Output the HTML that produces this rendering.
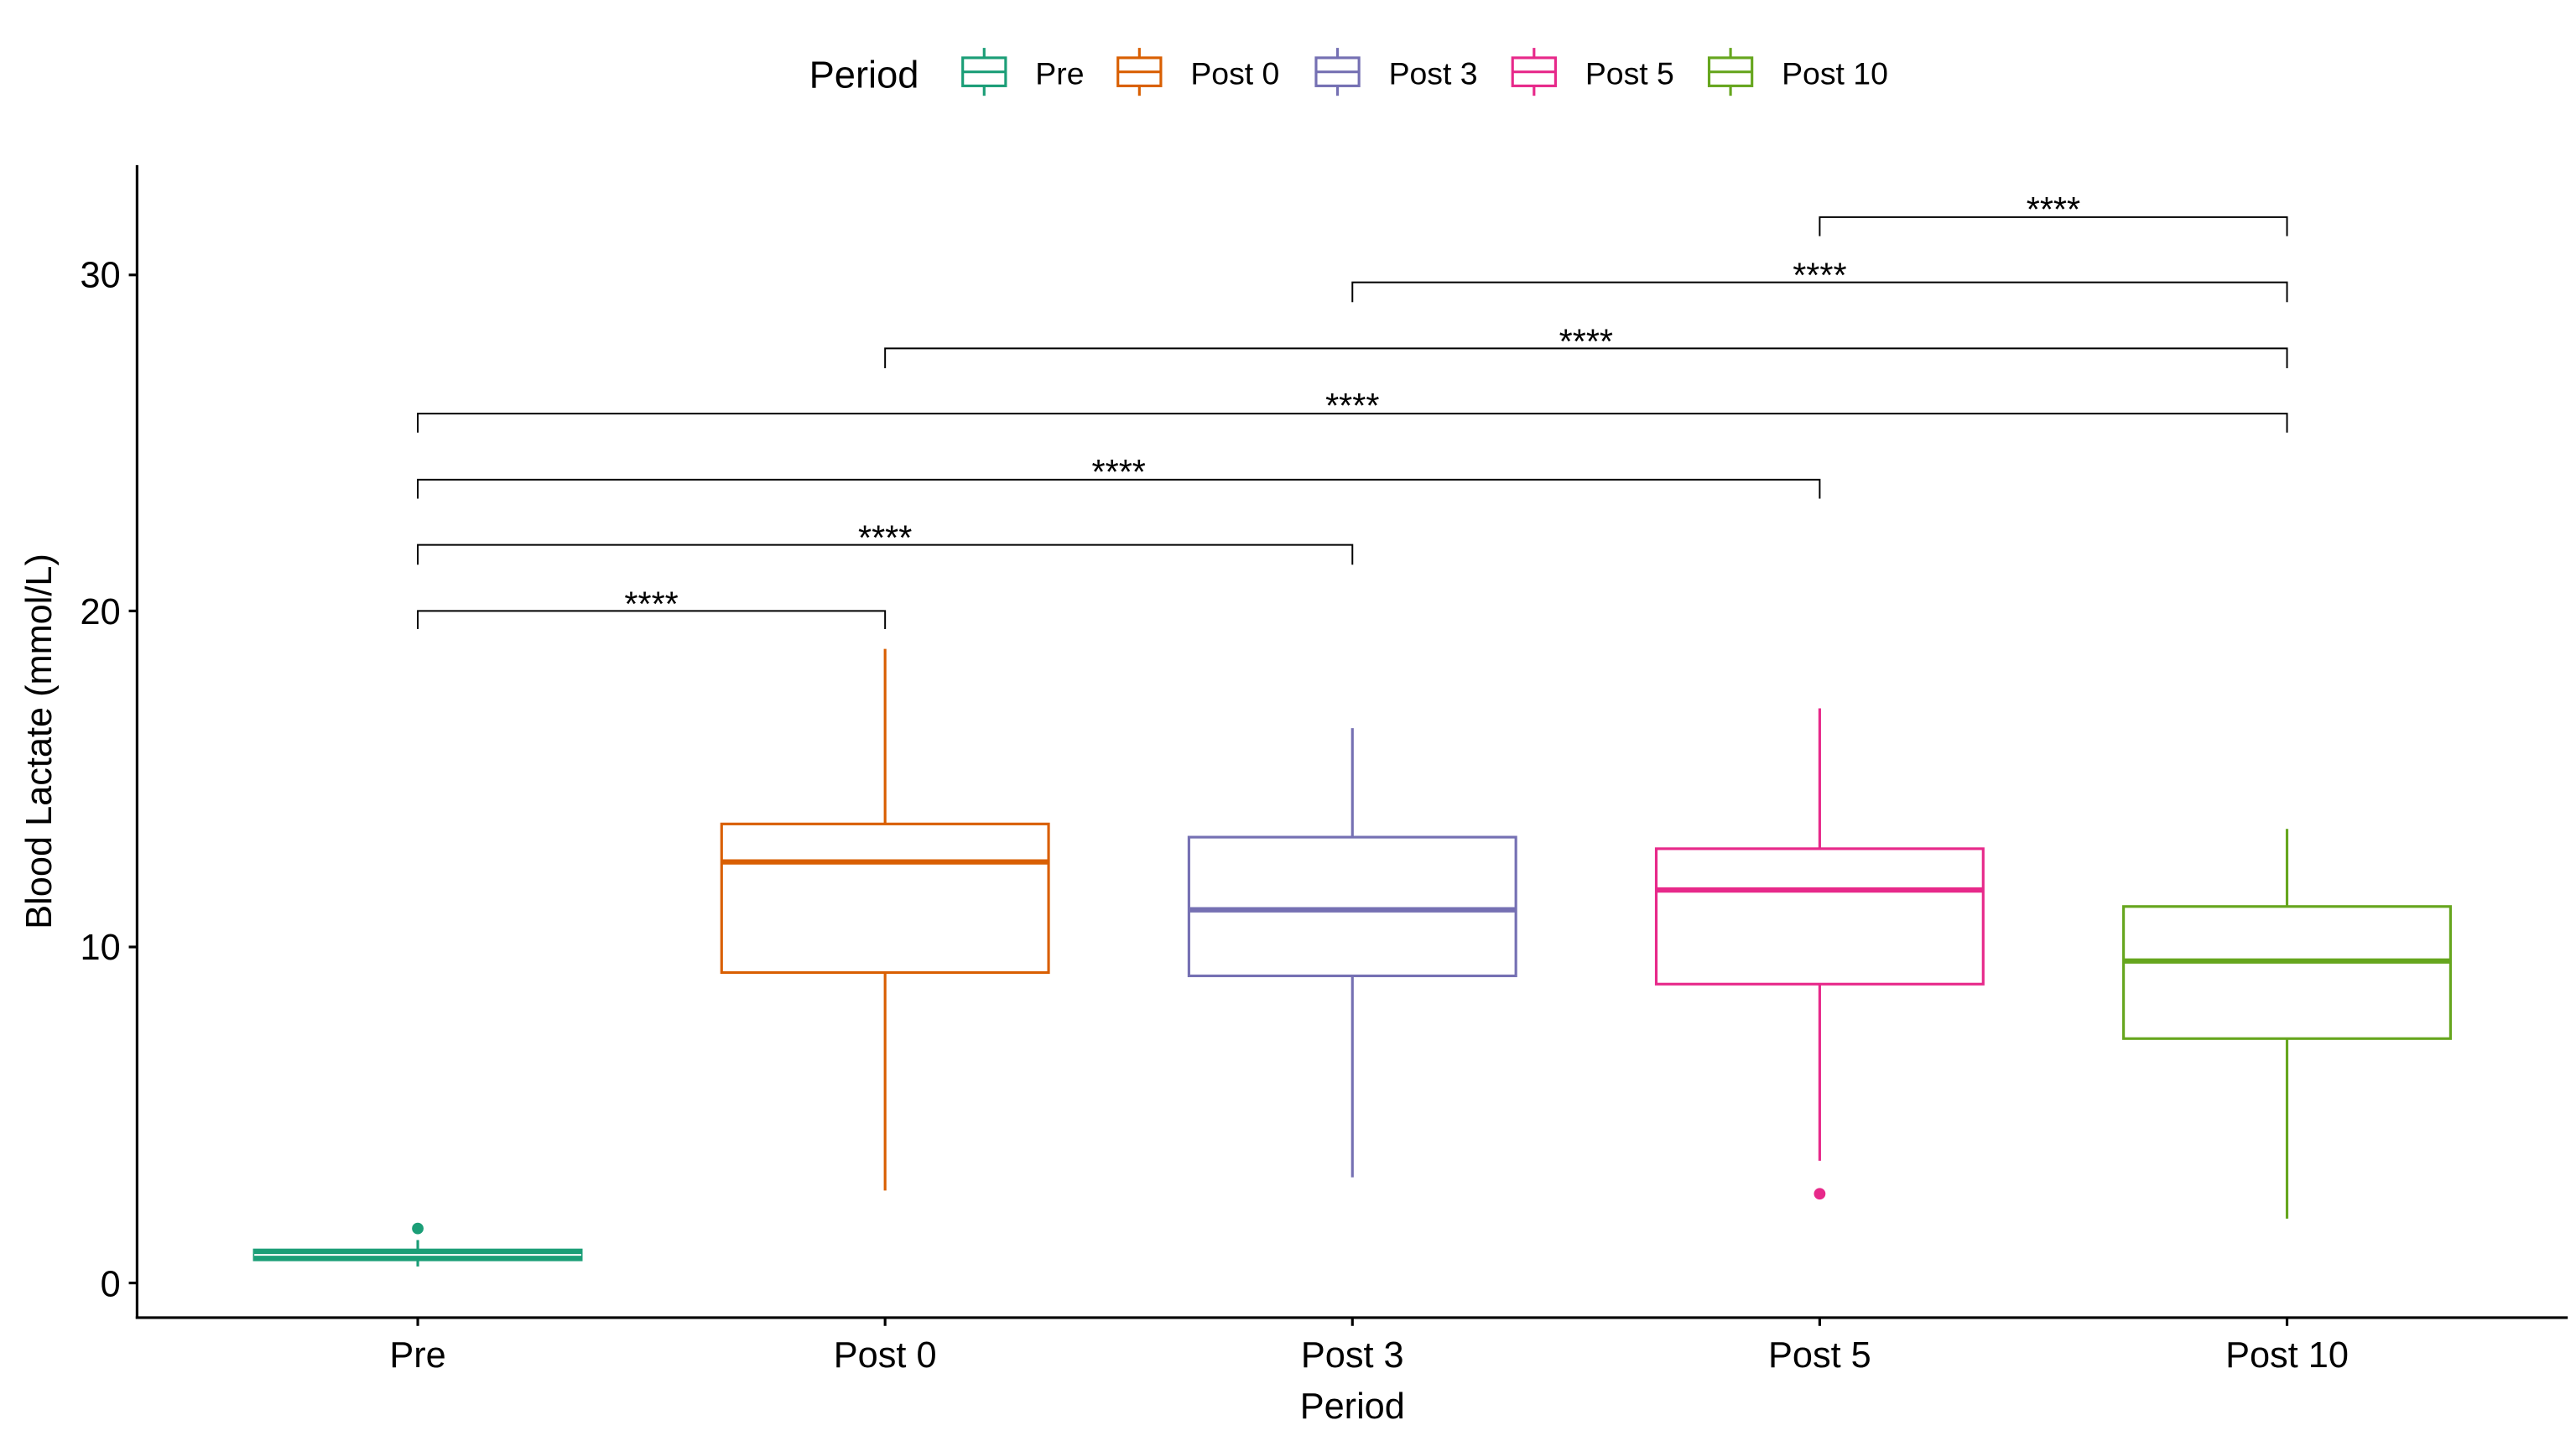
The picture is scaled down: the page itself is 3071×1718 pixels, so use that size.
<!DOCTYPE html>
<html><head><meta charset="utf-8"><style>html,body{margin:0;padding:0;background:#fff}svg{display:block}</style></head><body>
<svg width="3071" height="1718" viewBox="0 0 1560 872.7" xmlns="http://www.w3.org/2000/svg" font-family="Liberation Sans, Arial, sans-serif">
<rect width="1560" height="873" fill="#fff"/>
<line x1="83" y1="100" x2="83" y2="798.7" stroke="#000" stroke-width="1.6"/>
<line x1="82.2" y1="798" x2="1555" y2="798" stroke="#000" stroke-width="1.6"/>
<g stroke="#000" stroke-width="1.6">
<line x1="78" y1="777" x2="83" y2="777"/><line x1="78" y1="573.5" x2="83" y2="573.5"/><line x1="78" y1="370" x2="83" y2="370"/><line x1="78" y1="166.5" x2="83" y2="166.5"/>
<line x1="253" y1="798" x2="253" y2="803"/><line x1="536" y1="798" x2="536" y2="803"/><line x1="819" y1="798" x2="819" y2="803"/><line x1="1102" y1="798" x2="1102" y2="803"/><line x1="1385" y1="798" x2="1385" y2="803"/>
</g>
<g font-size="22" fill="#000" text-anchor="end">
<text x="73" y="785">0</text><text x="73" y="581">10</text><text x="73" y="378">20</text><text x="73" y="174">30</text>
</g>
<g font-size="22" fill="#000" text-anchor="middle">
<text x="253" y="828">Pre</text><text x="536" y="828">Post 0</text><text x="819" y="828">Post 3</text><text x="1102" y="828">Post 5</text><text x="1385" y="828">Post 10</text>
<text x="819" y="859">Period</text>
<text transform="translate(31,449) rotate(-90)">Blood Lactate (mmol/L)</text>
</g>
<g fill="none" stroke-width="1.6">
<g stroke="#1B9E77">
<line x1="253" y1="751" x2="253" y2="767"/>
<rect x="154" y="757" width="198" height="6" fill="#1B9E77"/>
<line x1="154" y1="760" x2="352" y2="760" stroke="#fff" stroke-width="1"/>
<circle cx="253" cy="744" r="3.5" fill="#1B9E77" stroke="none"/>
</g>
<g stroke="#D95F02">
<line x1="536" y1="393" x2="536" y2="499"/><line x1="536" y1="589" x2="536" y2="721"/>
<rect x="437" y="499" width="198" height="90" fill="#fff"/>
<line x1="437" y1="522" x2="635" y2="522" stroke-width="3.2"/>
</g>
<g stroke="#7570B3">
<line x1="819" y1="441" x2="819" y2="507"/><line x1="819" y1="591" x2="819" y2="713"/>
<rect x="720" y="507" width="198" height="84" fill="#fff"/>
<line x1="720" y1="551" x2="918" y2="551" stroke-width="3.2"/>
</g>
<g stroke="#E7298A">
<line x1="1102" y1="429" x2="1102" y2="514"/><line x1="1102" y1="596" x2="1102" y2="703"/>
<rect x="1003" y="514" width="198" height="82" fill="#fff"/>
<line x1="1003" y1="539" x2="1201" y2="539" stroke-width="3.2"/>
<circle cx="1102" cy="723" r="3.5" fill="#E7298A" stroke="none"/>
</g>
<g stroke="#66A61E">
<line x1="1385" y1="502" x2="1385" y2="549"/><line x1="1385" y1="629" x2="1385" y2="738"/>
<rect x="1286" y="549" width="198" height="80" fill="#fff"/>
<line x1="1286" y1="582" x2="1484" y2="582" stroke-width="3.2"/>
</g>
</g>
<g fill="none" stroke="#000" stroke-width="1">
<path d="M253 381V370H536V381"/>
<path d="M253 342V330H819V342"/>
<path d="M253 302V290.5H1102V302"/>
<path d="M253 262V250.5H1385V262"/>
<path d="M536 223V211H1385V223"/>
<path d="M819 183V171H1385V183"/>
<path d="M1102 143V131.5H1385V143"/>
</g>
<g font-size="21" fill="#000" text-anchor="middle">
<text x="394.5" y="373">****</text>
<text x="536" y="333">****</text>
<text x="677.5" y="293">****</text>
<text x="819" y="253">****</text>
<text x="960.5" y="214">****</text>
<text x="1102" y="174">****</text>
<text x="1243.5" y="134">****</text>
</g>
<text x="490" y="53" font-size="23" fill="#000">Period</text>
<g fill="none" stroke-width="1.6">
<g stroke="#1B9E77"><line x1="596" y1="29" x2="596" y2="58"/><rect x="583" y="35" width="26" height="17" fill="#fff"/><line x1="583" y1="43.5" x2="609" y2="43.5"/></g>
<g stroke="#D95F02"><line x1="690" y1="29" x2="690" y2="58"/><rect x="677" y="35" width="26" height="17" fill="#fff"/><line x1="677" y1="43.5" x2="703" y2="43.5"/></g>
<g stroke="#7570B3"><line x1="810" y1="29" x2="810" y2="58"/><rect x="797" y="35" width="26" height="17" fill="#fff"/><line x1="797" y1="43.5" x2="823" y2="43.5"/></g>
<g stroke="#E7298A"><line x1="929" y1="29" x2="929" y2="58"/><rect x="916" y="35" width="26" height="17" fill="#fff"/><line x1="916" y1="43.5" x2="942" y2="43.5"/></g>
<g stroke="#66A61E"><line x1="1048" y1="29" x2="1048" y2="58"/><rect x="1035" y="35" width="26" height="17" fill="#fff"/><line x1="1035" y1="43.5" x2="1061" y2="43.5"/></g>
</g>
<g font-size="19" fill="#000">
<text x="627" y="51">Pre</text><text x="721" y="51">Post 0</text><text x="841" y="51">Post 3</text><text x="960" y="51">Post 5</text><text x="1079" y="51">Post 10</text>
</g>
</svg>
</body></html>
